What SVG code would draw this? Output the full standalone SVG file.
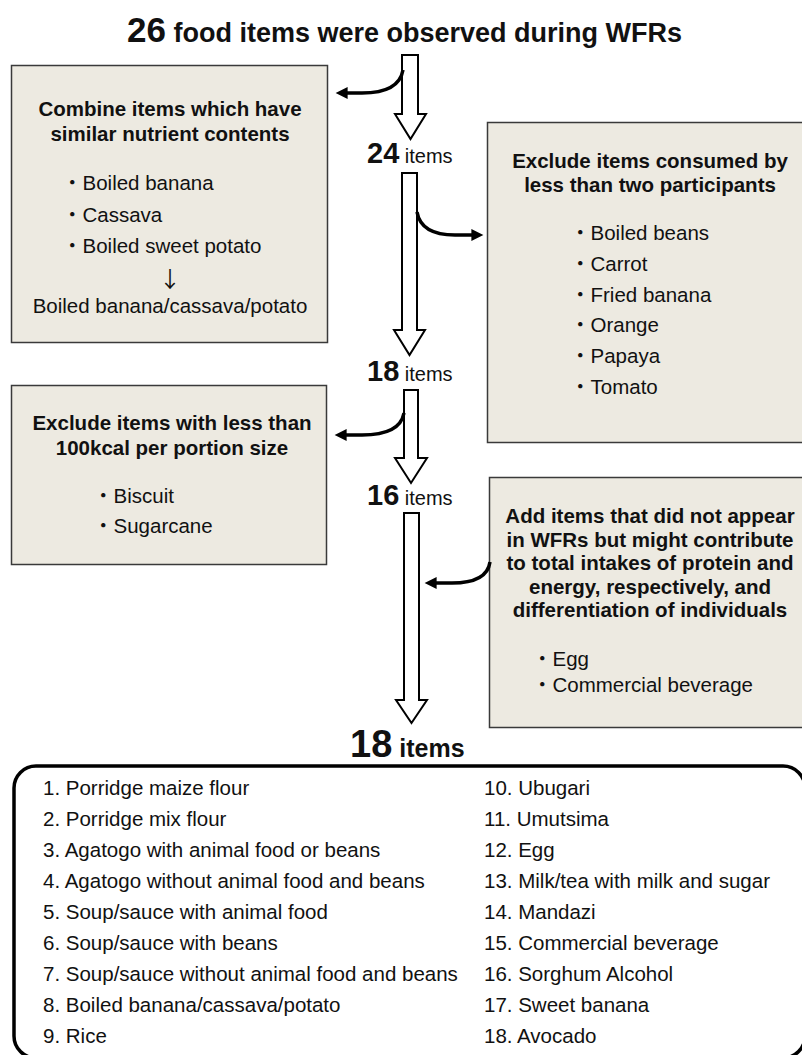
<svg xmlns="http://www.w3.org/2000/svg" width="802" height="1055" viewBox="0 0 802 1055">
<style>
text{font-family:"Liberation Sans",Arial,"Noto Sans CJK JP",sans-serif;fill:#111}
.b{font-weight:bold}
.h{font-size:20.5px;font-weight:bold;text-anchor:middle}
.t{font-size:20.5px}
.c{text-anchor:middle}
.arr{font-family:"Noto Sans CJK JP","Noto Sans CJK SC",sans-serif;font-size:22px;text-anchor:middle}
.box{fill:#EDEAE1;stroke:#3a3a3a;stroke-width:1.5}
.hollow{fill:#fff;stroke:#000;stroke-width:2;stroke-linejoin:miter}
.curve{fill:none;stroke:#000;stroke-width:3.5}
.num{font-size:29px;font-weight:bold}
.itm{font-size:20px}
</style>
<defs>
<marker id="ah" viewBox="0 0 10 10" refX="3" refY="5" markerWidth="14" markerHeight="12" markerUnits="userSpaceOnUse" orient="auto">
<path d="M0,0 L10,5 L0,10 Z" fill="#000"/>
</marker>
</defs>
<rect width="802" height="1055" fill="#fff"/>

<g id="title">
<text x="127" y="42" class="b"><tspan font-size="35">26</tspan><tspan font-size="27"> food items were observed during WFRs</tspan></text>
</g>

<g id="box-combine">
<rect class="box" x="11.5" y="65.5" width="316" height="277"/>
<text class="h" x="170" y="116">Combine items which have</text>
<text class="h" x="170" y="141">similar nutrient contents</text>
<text class="t" x="62" y="190">・Boiled banana</text>
<text class="t" x="62" y="222">・Cassava</text>
<text class="t" x="62" y="253">・Boiled sweet potato</text>
<text class="arr" x="170" y="287">↓</text>
<text class="t c" x="170" y="313">Boiled banana/cassava/potato</text>
</g>

<g id="box-exclude-two">
<rect class="box" x="487.5" y="122.5" width="320" height="320"/>
<text class="h" x="650" y="168">Exclude items consumed by</text>
<text class="h" x="650" y="192">less than two participants</text>
<text class="t" x="570" y="240">・Boiled beans</text>
<text class="t" x="570" y="271">・Carrot</text>
<text class="t" x="570" y="302">・Fried banana</text>
<text class="t" x="570" y="332">・Orange</text>
<text class="t" x="570" y="363">・Papaya</text>
<text class="t" x="570" y="394">・Tomato</text>
</g>

<g id="box-exclude-kcal">
<rect class="box" x="11.5" y="385.5" width="315" height="179"/>
<text class="h" x="172" y="430">Exclude items with less than</text>
<text class="h" x="172" y="455">100kcal per portion size</text>
<text class="t" x="93" y="503">・Biscuit</text>
<text class="t" x="93" y="533">・Sugarcane</text>
</g>

<g id="box-add">
<rect class="box" x="489.5" y="477.5" width="320" height="250"/>
<text class="h" x="650" y="523">Add items that did not appear</text>
<text class="h" x="650" y="547">in WFRs but might contribute</text>
<text class="h" x="650" y="570">to total intakes of protein and</text>
<text class="h" x="650" y="594">energy, respectively, and</text>
<text class="h" x="650" y="617">differentiation of individuals</text>
<text class="t" x="532" y="666">・Egg</text>
<text class="t" x="532" y="692">・Commercial beverage</text>
</g>

<g id="counts">
<text x="367" y="163"><tspan class="num">24</tspan><tspan class="itm"> items</tspan></text>
<text x="367" y="381"><tspan class="num">18</tspan><tspan class="itm"> items</tspan></text>
<text x="367" y="505"><tspan class="num">16</tspan><tspan class="itm"> items</tspan></text>
<text x="350" y="757" class="b"><tspan font-size="38">18</tspan><tspan font-size="25"> items</tspan></text>
</g>

<g id="connectors">
<path class="hollow" d="M402,55 L418,55 L418,114 L426,114 L410.5,139 L395,114 L402,114 Z"/>
<path class="hollow" d="M402,173 L417,173 L417,330 L425,330 L409.5,355 L394,330 L402,330 Z"/>
<path class="hollow" d="M404,390 L418,390 L418,458 L427,458 L411,483 L395,458 L404,458 Z"/>
<path class="hollow" d="M404,513 L419,513 L419,700 L427,700 L411.5,723 L396,700 L404,700 Z"/>
<path class="curve" marker-end="url(#ah)" d="M403,70 Q399,93 362,93 L344,93"/>
<path class="curve" marker-end="url(#ah)" d="M417,212 Q421,235 455,235 L475,235"/>
<path class="curve" marker-end="url(#ah)" d="M404,413 Q400,435 362,435 L343,435"/>
<path class="curve" marker-end="url(#ah)" d="M490,562 Q487,583 452,583 L433,583"/>
</g>

<g id="result-list">
<rect x="14" y="766" width="791" height="292" rx="22" ry="22" fill="none" stroke="#000" stroke-width="3.5"/>
<text class="t" x="43" y="795">1. Porridge maize flour</text>
<text class="t" x="43" y="826">2. Porridge mix flour</text>
<text class="t" x="43" y="857">3. Agatogo with animal food or beans</text>
<text class="t" x="43" y="888">4. Agatogo without animal food and beans</text>
<text class="t" x="43" y="919">5. Soup/sauce with animal food</text>
<text class="t" x="43" y="950">6. Soup/sauce with beans</text>
<text class="t" x="43" y="981">7. Soup/sauce without animal food and beans</text>
<text class="t" x="43" y="1012">8. Boiled banana/cassava/potato</text>
<text class="t" x="43" y="1043">9. Rice</text>
<text class="t" x="484" y="795">10. Ubugari</text>
<text class="t" x="484" y="826">11. Umutsima</text>
<text class="t" x="484" y="857">12. Egg</text>
<text class="t" x="484" y="888">13. Milk/tea with milk and sugar</text>
<text class="t" x="484" y="919">14. Mandazi</text>
<text class="t" x="484" y="950">15. Commercial beverage</text>
<text class="t" x="484" y="981">16. Sorghum Alcohol</text>
<text class="t" x="484" y="1012">17. Sweet banana</text>
<text class="t" x="484" y="1043">18. Avocado</text>
</g>
</svg>
